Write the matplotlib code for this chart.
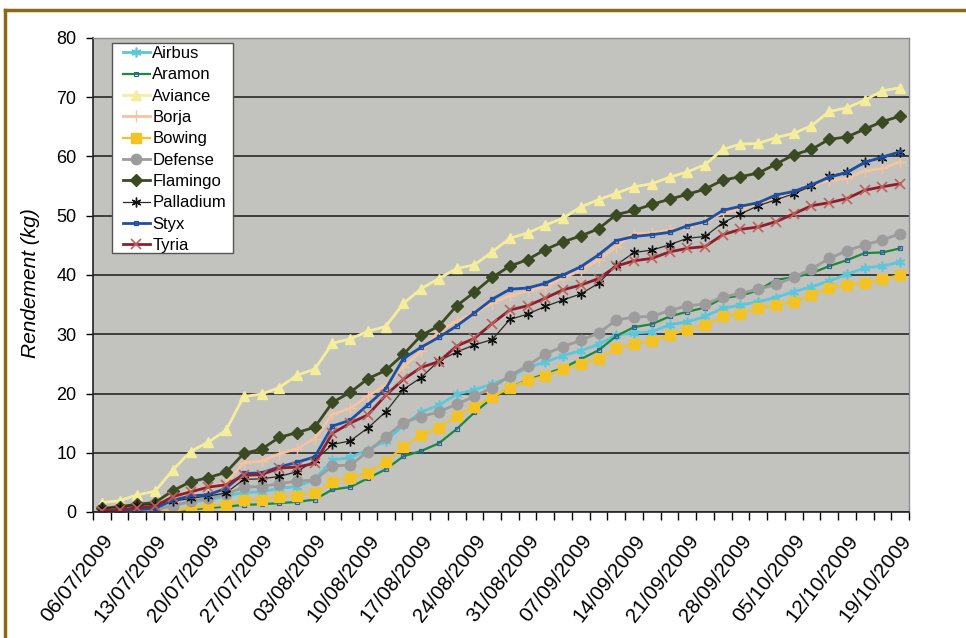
import matplotlib
matplotlib.use("Agg")
import matplotlib.pyplot as plt
from matplotlib.lines import Line2D
from matplotlib.patches import Rectangle
import numpy as np

plt.rcParams['font.family'] = ['Liberation Sans', 'DejaVu Sans']

tick_labels = ['06/07/2009', '13/07/2009', '20/07/2009', '27/07/2009', '03/08/2009',
               '10/08/2009', '17/08/2009', '24/08/2009', '31/08/2009', '07/09/2009',
               '14/09/2009', '21/09/2009', '28/09/2009', '05/10/2009', '12/10/2009',
               '19/10/2009']
points_per_week = 3

airbus = [0.2, 0.2, 0.3, 0.4, 1.2, 1.7, 2.0, 2.7, 3.3, 3.4,
          4.0, 4.3, 5.5, 8.8, 9.2, 10.5, 12.0, 14.6, 16.9, 18.0,
          19.9, 20.6, 21.6, 22.7, 24.4, 25.3, 26.4, 27.2, 28.3, 29.9,
          30.2, 30.4, 31.6, 32.1, 33.0, 34.4, 34.9, 35.5, 36.2, 37.2,
          38.0, 39.0, 40.1, 41.2, 41.5, 42.2]
aramon = [0.0, 0.0, 0.0, 0.0, 0.1, 0.4, 0.7, 0.9, 1.2, 1.3,
          1.5, 1.7, 2.1, 3.8, 4.2, 5.7, 7.2, 9.4, 10.3, 11.6,
          14.0, 16.8, 19.2, 21.0, 22.3, 23.3, 24.3, 25.8, 27.3, 29.7,
          31.2, 31.7, 33.0, 33.8, 34.5, 36.1, 36.5, 37.4, 39.2, 39.6,
          40.3, 41.5, 42.5, 43.7, 43.8, 44.5]
aviance = [1.6, 1.9, 2.9, 3.5, 7.1, 10.2, 11.8, 13.8, 19.5, 19.9,
           21.0, 23.1, 24.1, 28.5, 29.2, 30.5, 31.3, 35.2, 37.7, 39.4,
           41.1, 41.7, 43.9, 46.2, 47.1, 48.4, 49.6, 51.5, 52.7, 53.8,
           54.9, 55.4, 56.5, 57.4, 58.6, 61.2, 62.1, 62.2, 63.2, 63.9,
           65.2, 67.6, 68.2, 69.5, 71.1, 71.6]
borja = [0.3, 0.4, 0.7, 1.0, 2.6, 3.7, 4.2, 4.9, 8.3, 8.6,
         9.8, 10.7, 12.4, 16.5, 17.5, 19.6, 21.4, 24.5, 27.1, 30.5,
         32.2, 33.6, 35.2, 36.5, 37.3, 38.0, 39.5, 40.8, 42.5, 44.8,
         47.0, 47.1, 47.6, 48.1, 48.9, 50.5, 51.1, 52.0, 52.9, 53.7,
         55.0, 56.0, 56.3, 57.6, 58.0, 59.1]
bowing = [0.0, 0.0, 0.0, 0.0, 0.2, 0.6, 1.0, 1.2, 2.0, 2.1,
          2.6, 2.7, 3.2, 5.1, 5.7, 6.6, 8.5, 11.0, 13.0, 14.2,
          16.2, 17.8, 19.4, 21.0, 22.2, 23.0, 24.1, 24.9, 25.9, 27.7,
          28.3, 28.9, 29.9, 30.7, 31.6, 33.0, 33.5, 34.4, 34.9, 35.5,
          36.6, 37.8, 38.3, 38.7, 39.3, 40.0]
defense = [0.2, 0.2, 0.3, 0.4, 1.0, 1.8, 2.3, 3.0, 4.2, 4.3,
           4.8, 5.2, 5.4, 7.8, 7.9, 10.2, 12.7, 15.1, 16.1, 16.9,
           18.2, 19.5, 21.0, 23.0, 24.7, 26.7, 27.9, 29.0, 30.2, 32.4,
           32.9, 33.0, 34.0, 34.8, 35.1, 36.3, 36.9, 37.6, 38.4, 39.6,
           41.0, 42.8, 44.1, 45.1, 45.9, 47.0]
flamingo = [0.6, 0.9, 1.3, 1.6, 3.6, 5.1, 5.8, 6.7, 9.9, 10.6,
            12.6, 13.4, 14.3, 18.5, 20.2, 22.5, 23.9, 26.6, 29.8, 31.4,
            34.8, 37.1, 39.6, 41.5, 42.6, 44.3, 45.6, 46.6, 47.8, 50.2,
            50.9, 51.9, 52.8, 53.6, 54.5, 56.0, 56.6, 57.2, 58.7, 60.3,
            61.2, 62.9, 63.3, 64.6, 65.9, 66.8]
palladium = [0.6, 0.9, 1.1, 1.3, 1.8, 2.3, 2.7, 3.2, 5.5, 5.6,
             6.0, 6.8, 8.7, 11.4, 12.0, 14.2, 16.9, 20.7, 22.7, 25.5,
             27.0, 28.2, 29.1, 32.5, 33.4, 34.7, 35.8, 36.8, 38.6, 41.7,
             43.8, 44.2, 45.1, 46.2, 46.5, 48.8, 50.3, 51.7, 52.7, 53.7,
             55.0, 56.7, 57.4, 59.1, 59.7, 60.8]
styx = [0.2, 0.3, 0.4, 0.6, 2.0, 2.7, 2.9, 4.0, 6.5, 6.6,
        7.6, 8.4, 9.3, 14.5, 15.5, 18.1, 20.8, 25.9, 27.8, 29.5,
        31.4, 33.6, 35.9, 37.6, 37.8, 38.6, 40.0, 41.4, 43.4, 45.8,
        46.5, 46.8, 47.2, 48.3, 49.0, 50.9, 51.6, 52.2, 53.5, 54.1,
        55.2, 56.5, 57.3, 59.0, 59.9, 60.8]
tyria = [0.2, 0.4, 0.7, 1.0, 2.6, 3.4, 4.2, 4.6, 6.2, 6.3,
         7.4, 7.6, 8.2, 13.3, 15.0, 16.4, 19.7, 22.4, 24.4, 25.4,
         28.0, 29.3, 31.8, 34.1, 34.8, 36.1, 37.5, 38.3, 39.4, 41.5,
         42.4, 42.8, 43.9, 44.5, 44.8, 46.8, 47.7, 48.1, 49.0, 50.3,
         51.7, 52.2, 52.9, 54.3, 54.9, 55.4]

series_names = ['Airbus', 'Aramon', 'Aviance', 'Borja', 'Bowing',
                'Defense', 'Flamingo', 'Palladium', 'Styx', 'Tyria']
series_values = [airbus, aramon, aviance, borja, bowing,
                 defense, flamingo, palladium, styx, tyria]

asterisk = (6, 2, 0)
styles = {
    'Airbus':   dict(color='#5CC6DA', lw=2.0, marker=asterisk, ms=7, mec='#5CC6DA', mew=1.2),
    'Aramon':   dict(color='#1A8A3A', lw=1.6, marker='s', ms=2.5, mfc='none', mec='#2A5CA8', mew=0.8),
    'Aviance':  dict(color='#F4EE9C', lw=2.0, marker='^', ms=7.5, mfc='#F4EE9C', mec='#F4EE9C'),
    'Borja':    dict(color='#F6C3A0', lw=2.0, marker='+', ms=9, mec='#F6C3A0', mew=1.0),
    'Bowing':   dict(color='#F3C323', lw=1.6, marker='s', ms=7, mfc='#F3C323', mec='#F3C323'),
    'Defense':  dict(color='#9C9C9C', lw=2.0, marker='o', ms=7.5, mfc='#9C9C9C', mec='#9C9C9C'),
    'Flamingo': dict(color='#3B4A22', lw=2.0, marker='D', ms=6, mfc='#3B4A22', mec='#3B4A22'),
    'Palladium': dict(color='#2A2A2A', lw=0.9, marker=asterisk, ms=7, mec='#111111', mew=1.0),
    'Styx':     dict(color='#1F4FA0', lw=2.0, marker='s', ms=3.5, mfc='none', mec='#1F4FA0', mew=0.9),
    'Tyria':    dict(color='#8E1E2E', lw=2.0, marker='x', ms=7, mec='#C0605A', mew=1.2),
}

W, H = 966, 638
fig = plt.figure(figsize=(W / 100, H / 100), dpi=100)
fig.patch.set_facecolor('white')

ax = fig.add_axes([93 / W, 1 - 512 / H, (909 - 93) / W, (512 - 38) / H])
ax.set_facecolor('#C2C2BE')

n = len(airbus)
x = np.arange(n)
for name, vals in zip(series_names, series_values):
    ax.plot(x, vals, label=name, **styles[name])

ax.set_xlim(-0.5, n - 0.5)
ax.set_ylim(0, 80)
ax.set_yticks(np.arange(0, 81, 10))
ax.yaxis.grid(True, color='#1a1a1a', lw=1.1)
ax.set_axisbelow(True)

major = np.arange(0, n, points_per_week)
ax.set_xticks(major)
ax.set_xticklabels(tick_labels, rotation=52, ha='right', va='top',
                   rotation_mode='anchor', fontsize=15)
ax.set_xticks(np.arange(-0.5, n, 1), minor=True)
ax.tick_params(axis='x', which='major', length=0, pad=14)
ax.tick_params(axis='x', which='minor', length=6, width=1, color='black', direction='out')
ax.tick_params(axis='y', which='major', length=5, width=1, labelsize=13, pad=7,
               direction='out')

for s in ['left', 'bottom']:
    ax.spines[s].set_color('#222222')
    ax.spines[s].set_linewidth(1.2)
for s in ['top', 'right']:
    ax.spines[s].set_color('#8c8c8c')
    ax.spines[s].set_linewidth(1.0)

fig.text(31 / W, 1 - 283 / H, 'Rendement (kg)', rotation=90, style='italic',
         fontsize=15, ha='center', va='center')

# legend box drawn manually (behind the legend entries)
box = Rectangle((112 / W, 1 - 253 / H), (233 - 112) / W, (253 - 43) / H,
                transform=fig.transFigure, facecolor='white',
                edgecolor='#555555', lw=1.0, zorder=4.5, clip_on=False)
ax.add_patch(box)
leg = ax.legend(loc='upper left', bbox_to_anchor=(123 / W, 1 - 46 / H),
                bbox_transform=fig.transFigure, fontsize=12, frameon=False,
                handlelength=1.6, handletextpad=0.15, labelspacing=0.38,
                borderpad=0.0, borderaxespad=0)
leg.set_zorder(6)

# document frame (brown border)
fig.add_artist(Line2D([5 / W, 1.0], [1 - 10 / H, 1 - 10 / H], color='#8B6A14', lw=2.5,
                      transform=fig.transFigure))
fig.add_artist(Line2D([5 / W, 5 / W], [0, 1 - 10 / H], color='#8B6A14', lw=2.5,
                      transform=fig.transFigure))

fig.savefig('out.png', dpi=100)
